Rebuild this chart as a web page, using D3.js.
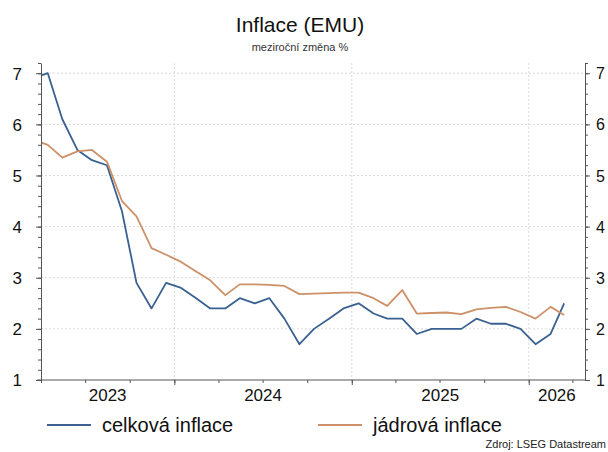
<!DOCTYPE html>
<html>
<head>
<meta charset="utf-8">
<script src="https://cdn.jsdelivr.net/npm/d3@7"></script>
<style>
  body { margin: 0; background: #fff; }
  text { font-family: "Liberation Sans", Arial, sans-serif; }
</style>
</head>
<body>
<div id="chart"></div>
<script>
// monthly data, Mar 2023 .. Mar 2026
const months = [
  "2023-03", "2023-04", "2023-05", "2023-06", "2023-07", "2023-08", "2023-09", "2023-10", "2023-11", "2023-12",
  "2024-01", "2024-02", "2024-03", "2024-04", "2024-05", "2024-06", "2024-07", "2024-08", "2024-09", "2024-10", "2024-11", "2024-12",
  "2025-01", "2025-02", "2025-03", "2025-04", "2025-05", "2025-06", "2025-07", "2025-08", "2025-09", "2025-10", "2025-11", "2025-12",
  "2026-01", "2026-02", "2026-03"
];
const headline = [
  6.9, 7.0, 6.1, 5.5, 5.3, 5.2, 4.3, 2.9, 2.4, 2.9,
  2.8, 2.6, 2.4, 2.4, 2.6, 2.5, 2.6, 2.2, 1.7, 2.0, 2.2, 2.4,
  2.5, 2.3, 2.2, 2.2, 1.9, 2.0, 2.0, 2.0, 2.2, 2.1, 2.1, 2.0,
  1.7, 1.9, 2.5
];
const core = [
  5.7, 5.6, 5.35, 5.47, 5.5, 5.27, 4.5, 4.2, 3.58, 3.45,
  3.31, 3.12, 2.95, 2.66, 2.87, 2.87, 2.86, 2.84, 2.68, 2.69, 2.7, 2.71,
  2.71, 2.6, 2.45, 2.76, 2.3, 2.31, 2.32, 2.29, 2.38, 2.41, 2.43, 2.33,
  2.2, 2.43, 2.27
];
const seriesNames = ["celková inflace", "jádrová inflace"];
const seriesColors = ["#3a6191", "#cd9067"];
const yTicks = [1, 2, 3, 4, 5, 6, 7];
const yearLabels = ["2023", "2024", "2025", "2026"];

const W = 608, H = 452;
const plot = { left: 41, right: 585, top: 63, bottom: 380 };

const svg = d3.select("#chart").append("svg")
  .attr("width", W)
  .attr("height", H);

const parseMonth = d3.timeParse("%Y-%m");
const dates = months.map(m => d3.timeDay.offset(parseMonth(m), 14)); // mid-month

const x = d3.scaleTime()
  .domain([new Date(2023, 3, 1), new Date(2026, 3, 27)])
  .range([plot.left, plot.right]);

const y = d3.scaleLinear()
  .domain([1, 7.2])
  .range([plot.bottom, plot.top]);

// title
svg.append("text")
  .attr("x", 300).attr("y", 32)
  .attr("text-anchor", "middle")
  .style("font-size", "21px")
  .style("fill", "#111")
  .text("Inflace (EMU)");

svg.append("text")
  .attr("x", 300).attr("y", 51)
  .attr("text-anchor", "middle")
  .style("font-size", "11px")
  .style("fill", "#333")
  .text("meziroční změna %");

// grid
const grid = svg.append("g");
grid.selectAll(".hgrid")
  .data(yTicks.filter(d => d > 1))
  .join("line")
  .attr("x1", plot.left).attr("x2", plot.right)
  .attr("y1", d => y(d)).attr("y2", d => y(d))
  .attr("stroke", "#d9d9d9")
  .attr("stroke-dasharray", "2,2");

const yearStarts = yearLabels.map(s => new Date(+s, 0, 1));
grid.selectAll(".vgrid")
  .data(yearStarts.filter(d => x(d) > plot.left))
  .join("line")
  .attr("x1", d => x(d)).attr("x2", d => x(d))
  .attr("y1", plot.top).attr("y2", plot.bottom)
  .attr("stroke", "#d9d9d9")
  .attr("stroke-dasharray", "2,2");

// clip
svg.append("defs").append("clipPath")
  .attr("id", "clip")
  .append("rect")
  .attr("x", plot.left).attr("y", plot.top)
  .attr("width", plot.right - plot.left)
  .attr("height", plot.bottom - plot.top);

const line = d3.line()
  .x((d, i) => x(dates[i]))
  .y(d => y(d));

const lines = svg.append("g").attr("clip-path", "url(#clip)");
[headline, core].forEach((vals, k) => {
  lines.append("path")
    .datum(vals)
    .attr("fill", "none")
    .attr("stroke", seriesColors[k])
    .attr("stroke-width", 1.8)
    .attr("stroke-linejoin", "round")
    .attr("d", line);
});

// y axes with minor ticks
const minorY = d3.range(1, 7.2001, 0.2);
const axisColor = "#555";
const fmt = d3.format("d");

const leftAxis = svg.append("g")
  .attr("transform", `translate(${plot.left},0)`)
  .call(d3.axisLeft(y).tickValues(minorY).tickSize(3).tickFormat(""));
leftAxis.select(".domain").remove();
leftAxis.selectAll("line").attr("stroke", axisColor);

const leftMajor = svg.append("g")
  .attr("transform", `translate(${plot.left},0)`)
  .call(d3.axisLeft(y).tickValues(yTicks).tickFormat(fmt).tickSize(5).tickPadding(14).tickSizeOuter(0));
leftMajor.select(".domain").attr("stroke", axisColor);
leftMajor.selectAll("line").attr("stroke", axisColor);
leftMajor.selectAll("text")
  .style("font-size", "17px")
  .style("fill", "#111")
  .attr("dy", "0.35em");

const rightAxis = svg.append("g")
  .attr("transform", `translate(${plot.right},0)`)
  .call(d3.axisRight(y).tickValues(minorY).tickSize(3).tickFormat(""));
rightAxis.select(".domain").remove();
rightAxis.selectAll("line").attr("stroke", axisColor);

const rightMajor = svg.append("g")
  .attr("transform", `translate(${plot.right},0)`)
  .call(d3.axisRight(y).tickValues(yTicks).tickFormat(fmt).tickSize(5).tickPadding(6).tickSizeOuter(0));
rightMajor.select(".domain").attr("stroke", axisColor);
rightMajor.selectAll("line").attr("stroke", axisColor);
rightMajor.selectAll("text")
  .style("font-size", "16px")
  .style("fill", "#111")
  .attr("dy", "0.35em");

// x axis: quarterly minor ticks, yearly major ticks
const quarters = d3.timeMonth.every(3).range(new Date(2023, 3, 1), new Date(2026, 3, 28));
const bottomMinor = svg.append("g")
  .attr("transform", `translate(0,${plot.bottom})`)
  .call(d3.axisBottom(x).tickValues(quarters).tickSize(3).tickFormat(""));
bottomMinor.select(".domain").remove();
bottomMinor.selectAll("line").attr("stroke", axisColor);

const bottomMajor = svg.append("g")
  .attr("transform", `translate(0,${plot.bottom})`)
  .call(d3.axisBottom(x).tickValues(yearStarts.filter(d => x(d) > plot.left)).tickSize(5).tickFormat(""));
bottomMajor.select(".domain").remove();
bottomMajor.selectAll("line").attr("stroke", axisColor);

svg.append("line")
  .attr("x1", plot.left - 4).attr("x2", plot.right)
  .attr("y1", plot.bottom).attr("y2", plot.bottom)
  .attr("stroke", axisColor);

// year labels centered in each (visible) year
svg.append("g").selectAll("text")
  .data(yearLabels)
  .join("text")
  .attr("x", d => {
    const a = Math.max(x(new Date(+d, 0, 1)), plot.left);
    const b = Math.min(x(new Date(+d + 1, 0, 1)), plot.right);
    return (a + b) / 2;
  })
  .attr("y", 401)
  .attr("text-anchor", "middle")
  .style("font-size", "17px")
  .style("fill", "#111")
  .text(d => d);

// legend
const legendX = [47, 318];
const legend = svg.append("g");
seriesNames.forEach((name, k) => {
  legend.append("line")
    .attr("x1", legendX[k]).attr("x2", legendX[k] + 44)
    .attr("y1", 425).attr("y2", 425)
    .attr("stroke", seriesColors[k])
    .attr("stroke-width", 1.8);
  legend.append("text")
    .attr("x", legendX[k] + 55).attr("y", 432)
    .style("font-size", "20px")
    .style("fill", "#111")
    .text(name);
});

// source
svg.append("text")
  .attr("x", 606).attr("y", 448)
  .attr("text-anchor", "end")
  .style("font-size", "11px")
  .style("fill", "#222")
  .text("Zdroj: LSEG Datastream");
</script>
</body>
</html>
